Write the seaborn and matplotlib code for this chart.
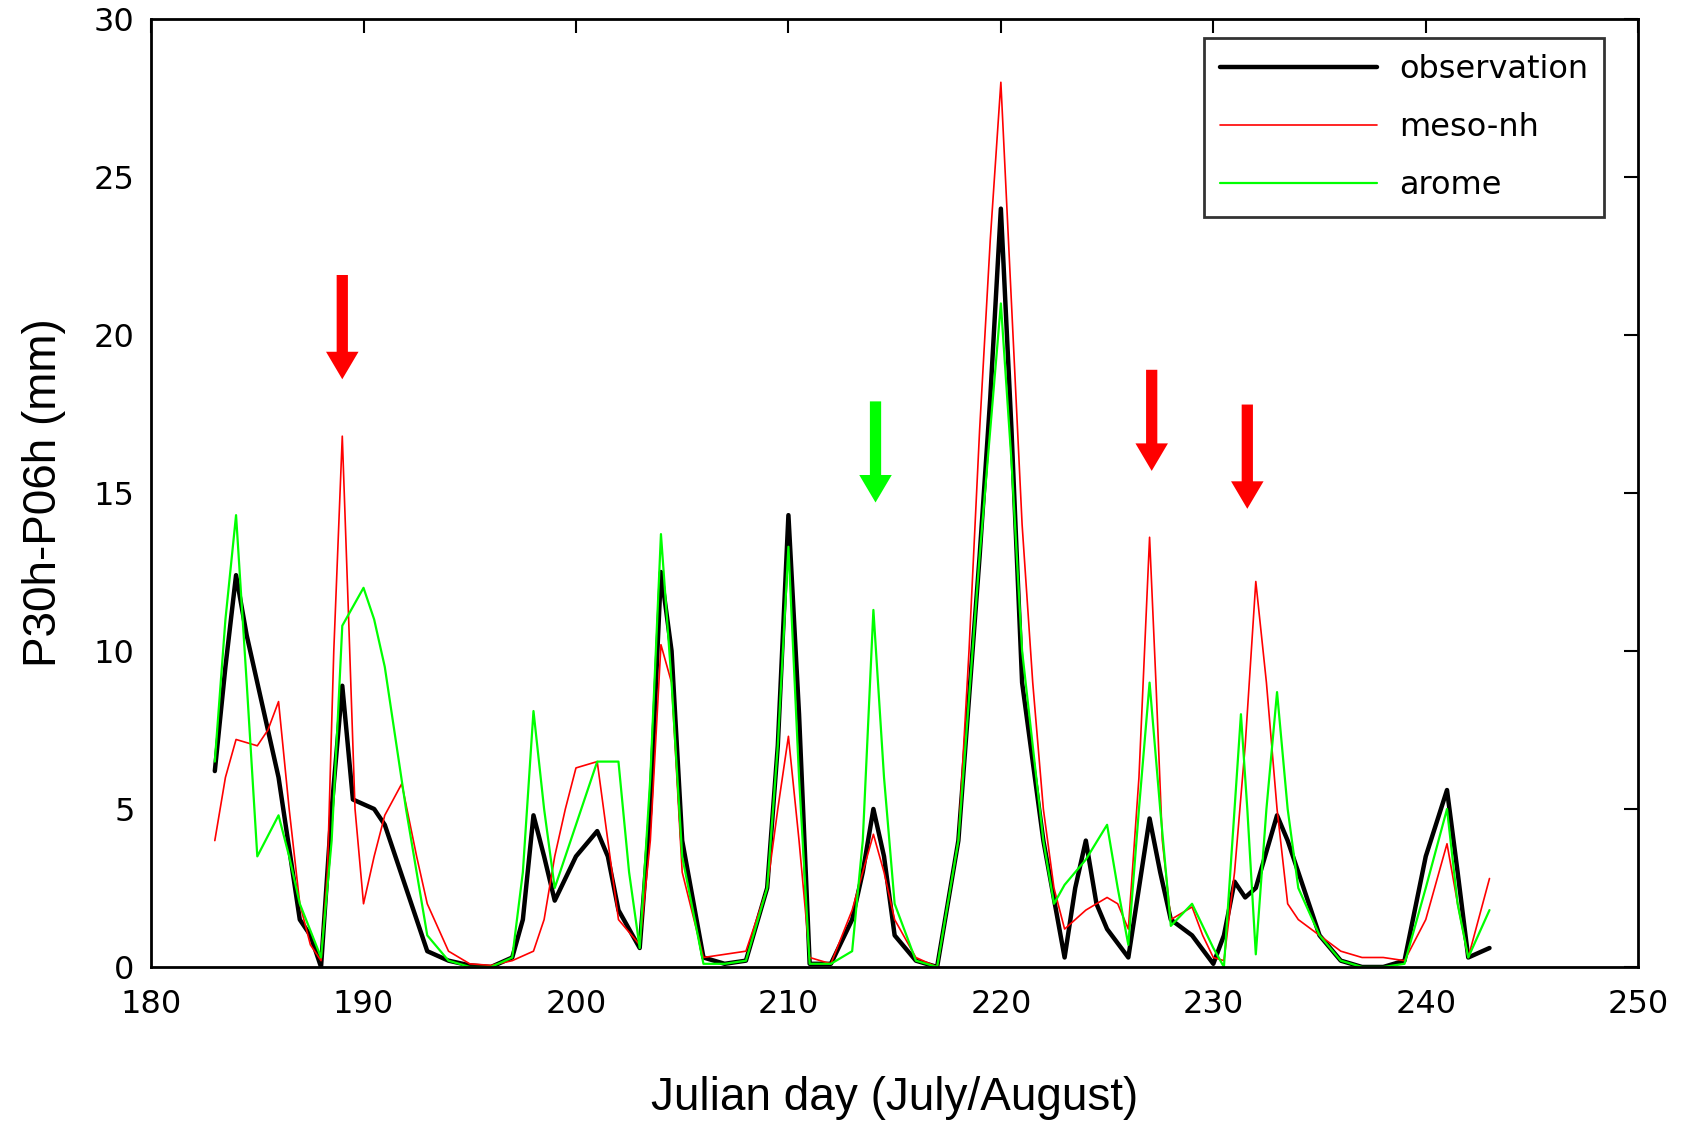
import pandas as pd
import numpy as np
import matplotlib
matplotlib.use('Agg')
import matplotlib.pyplot as plt
import seaborn as sns

# Values (Julian day, P30h-P06h in mm)
obs_day = [183, 183.5, 184, 184.5, 185, 186, 187, 187.5, 188, 188.5, 189, 189.5, 190.5, 191,
           192, 193, 194, 195, 196, 197, 197.5, 198, 198.5, 199, 200, 201, 201.5, 202, 203,
           203.5, 204, 204.5, 205, 206, 207, 208, 209, 209.5, 210, 210.5, 211, 212, 213, 213.5,
           214, 214.5, 215, 216, 217, 218, 219, 219.5, 220, 220.5, 221, 222, 223, 223.5, 224,
           224.5, 225, 226, 226.5, 227, 227.5, 228, 229, 230, 230.5, 231, 231.5, 232, 233,
           233.5, 234, 235, 236, 237, 238, 239, 240, 241, 241.5, 242, 243]
obs_val = [6.2, 9.5, 12.4, 10.5, 9.0, 6.0, 1.5, 1.0, 0.0, 5.0, 8.9, 5.3, 5.0, 4.5,
           2.5, 0.5, 0.2, 0.05, 0.0, 0.3, 1.5, 4.8, 3.5, 2.1, 3.5, 4.3, 3.5, 1.8, 0.6,
           5.0, 12.5, 10.0, 4.0, 0.3, 0.1, 0.2, 2.5, 7.0, 14.3, 8.0, 0.1, 0.1, 1.5, 3.0,
           5.0, 3.5, 1.0, 0.2, 0.0, 4.0, 13.0, 18.0, 24.0, 17.0, 9.0, 4.0, 0.3, 2.5, 4.0,
           2.0, 1.2, 0.3, 2.5, 4.7, 3.0, 1.5, 1.0, 0.1, 1.0, 2.7, 2.2, 2.5, 4.8,
           4.0, 3.0, 1.0, 0.2, 0.0, 0.0, 0.2, 3.5, 5.6, 3.0, 0.3, 0.6]

meso_day = [183, 183.5, 184, 185, 185.5, 186, 186.5, 187, 187.5, 188, 188.3, 188.6, 189, 189.3,
            189.6, 190, 190.5, 191, 191.8, 192.5, 193, 194, 195, 196, 197, 198, 198.5, 199,
            199.5, 200, 201, 201.5, 202, 203, 203.5, 204, 204.5, 205, 206, 207, 208, 209,
            209.5, 210, 210.5, 211, 212, 213, 214, 214.5, 215, 216, 217, 218, 218.5, 219,
            219.5, 220, 220.5, 221, 221.5, 222, 222.5, 223, 224, 225, 225.5, 226, 226.5, 227,
            227.3, 227.6, 228, 228.5, 229, 229.5, 230, 230.5, 231, 231.5, 232, 232.5, 233,
            233.5, 234, 235, 236, 237, 238, 239, 240, 241, 241.5, 242, 243]
meso_val = [4.0, 6.0, 7.2, 7.0, 7.5, 8.4, 5.0, 2.0, 0.7, 0.2, 3.0, 10.0, 16.8, 11.0,
            5.0, 2.0, 3.5, 4.8, 5.8, 3.5, 2.0, 0.5, 0.1, 0.05, 0.2, 0.5, 1.5, 3.5,
            5.0, 6.3, 6.5, 4.0, 1.5, 0.7, 4.0, 10.2, 9.0, 3.0, 0.3, 0.4, 0.5, 2.5,
            5.0, 7.3, 4.0, 0.3, 0.1, 1.8, 4.2, 3.0, 1.5, 0.3, 0.0, 4.0, 10.0, 17.0,
            23.0, 28.0, 21.0, 14.0, 9.0, 5.0, 2.5, 1.2, 1.8, 2.2, 2.0, 1.2, 6.0, 13.6,
            9.0, 4.0, 1.5, 1.7, 1.9, 1.0, 0.3, 0.2, 3.0, 7.0, 12.2, 9.0, 5.0,
            2.0, 1.5, 1.0, 0.5, 0.3, 0.3, 0.2, 1.5, 3.9, 2.0, 0.3, 2.8]

arome_day = [183, 183.5, 184, 184.5, 185, 186, 186.5, 187, 188, 188.5, 188.8, 189, 189.5, 190,
             190.5, 191, 192, 193, 194, 195, 196, 197, 197.5, 198, 198.5, 199, 200, 201, 202,
             202.5, 203, 203.5, 204, 204.5, 205, 206, 207, 208, 209, 209.5, 210, 210.5, 211,
             212, 213, 213.5, 214, 214.5, 215, 216, 217, 218, 219, 219.5, 220, 220.5, 221,
             222, 222.5, 223, 224, 225, 225.5, 226, 226.5, 227, 227.5, 228, 229, 230, 230.5,
             231, 231.3, 231.6, 232, 232.5, 233, 233.5, 234, 235, 236, 237, 238, 239, 240,
             241, 241.5, 242, 243]
arome_val = [6.5, 11.0, 14.3, 9.0, 3.5, 4.8, 3.5, 2.0, 0.3, 4.0, 8.0, 10.8, 11.4, 12.0,
             11.0, 9.5, 5.0, 1.0, 0.2, 0.0, 0.0, 0.3, 3.0, 8.1, 5.0, 2.5, 4.5, 6.5, 6.5,
             3.0, 0.6, 6.0, 13.7, 9.0, 3.5, 0.1, 0.1, 0.2, 2.5, 7.0, 13.3, 6.0, 0.1,
             0.1, 0.5, 4.0, 11.3, 6.0, 2.0, 0.2, 0.0, 4.0, 13.0, 17.0, 21.0, 16.0, 10.0,
             4.0, 2.0, 2.6, 3.4, 4.5, 2.5, 0.7, 5.0, 9.0, 5.0, 1.3, 2.0, 0.6, 0.0,
             5.0, 8.0, 5.0, 0.4, 5.0, 8.7, 5.0, 2.5, 1.0, 0.2, 0.0, 0.0, 0.1, 2.5,
             5.0, 2.0, 0.3, 1.8]

# arrows: (day, tail value, tip value, colour)
arrow_day = [189, 214.1, 227.1, 231.6]
arrow_top = [21.9, 17.9, 18.9, 17.8]
arrow_tip = [18.6, 14.7, 15.7, 14.5]
arrow_col = ['#ff0000', '#00ff00', '#ff0000', '#ff0000']

sns.set_style('white')
plt.rcParams['font.family'] = ['DejaVu Sans']
plt.rcParams['text.color'] = 'black'

fig = plt.figure(figsize=(16.88, 11.21), dpi=100)
ax = fig.add_axes([0.0895, 0.1374, 0.8810, 0.8456])

obs = pd.DataFrame({'day': obs_day, 'val': obs_val})
meso = pd.DataFrame({'day': meso_day, 'val': meso_val})
arome = pd.DataFrame({'day': arome_day, 'val': arome_val})

sns.lineplot(data=obs, x='day', y='val', color='black', lw=3.2, ax=ax,
             label='observation', estimator=None, sort=False)
sns.lineplot(data=meso, x='day', y='val', color='#ff0000', lw=1.2, ax=ax,
             label='meso-nh', estimator=None, sort=False)
sns.lineplot(data=arome, x='day', y='val', color='#00ff00', lw=1.6, ax=ax,
             label='arome', estimator=None, sort=False)

for d, t, p, c in zip(arrow_day, arrow_top, arrow_tip, arrow_col):
    ax.annotate('', xy=(d, p), xytext=(d, t),
                arrowprops=dict(arrowstyle='simple,head_width=1.3,tail_width=0.45,head_length=1.1',
                                color=c, lw=0, shrinkA=0, shrinkB=0, mutation_scale=18))

ax.set_xlim(180, 250)
ax.set_ylim(0, 30)
ax.set_xticks(np.arange(180, 251, 10))
ax.set_yticks(np.arange(0, 31, 5))
ax.tick_params(direction='in', length=10, width=1.5, labelsize=23, colors='black',
               top=True, right=True)
ax.tick_params(axis='x', pad=16)
ax.tick_params(axis='y', pad=12)
for s in ax.spines.values():
    s.set_color('black')
    s.set_linewidth(2)

ax.set_xlabel('Julian day (July/August)', fontsize=33, family='Liberation Sans',
              labelpad=40, color='black')
ax.set_ylabel('P30h-P06h (mm)', fontsize=33, family='Liberation Sans',
              labelpad=20, color='black')

leg = ax.legend(loc='upper right', bbox_to_anchor=(0.977, 0.980), borderaxespad=0,
                fontsize=23, frameon=True, fancybox=False, edgecolor='black',
                handlelength=4.9, borderpad=0.5, labelspacing=0.85, handletextpad=0.7)
leg.get_frame().set_linewidth(2)

fig.savefig('out.png', dpi=100)
